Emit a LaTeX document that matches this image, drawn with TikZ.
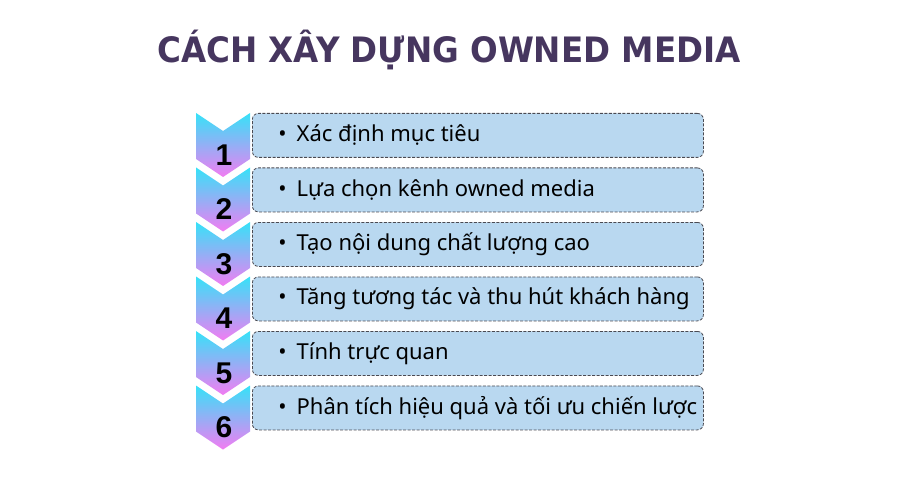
\documentclass[tikz,border=0pt]{standalone}
\usepackage{fontspec}
\setmainfont{Noto Sans}
\newfontfamily\titlefont{DejaVu Sans}
\newfontfamily\numfont{Liberation Sans}
\definecolor{titleink}{HTML}{46365F}
\definecolor{chevtop}{HTML}{36E2F8}
\definecolor{chevbot}{HTML}{F27CF2}
\definecolor{boxfill}{HTML}{B9D8F0}
\definecolor{boxline}{HTML}{4A4A52}
\newcommand{\steptext}[1]{\makebox[427pt][l]{\hspace*{14pt}\textbullet\hspace{10pt}#1}}
\begin{document}
\begin{tikzpicture}[x=1pt,y=-1pt]
        \tikzset{stepbox/.style={draw=boxline, fill=boxfill, dash pattern=on 3pt off 1.5pt, line width=0.8pt, rounded corners=6pt, anchor=north west, minimum width=451pt, minimum height=44pt, inner xsep=12pt, font=\fontsize{22}{24}\selectfont},
                 stepnum/.style={font=\numfont\fontsize{30}{32}\selectfont\bfseries},
                 headline/.style={font=\titlefont\fontsize{35}{40}\selectfont\bfseries, xscale=0.93}}
        \useasboundingbox (0,0) rectangle (900,500);
        % title
        \node[headline, text=titleink] (title) at (449,50) {CÁCH XÂY DỰNG OWNED MEDIA};
        % chevrons
        \shade[top color=chevtop, bottom color=chevbot] (196,113) -- (223,131) -- (250,113) -- (250,159) -- (223,177) -- (196,159) -- cycle;
        \shade[top color=chevtop, bottom color=chevbot] (196,167.5) -- (223,185.5) -- (250,167.5) -- (250,213.5) -- (223,231.5) -- (196,213.5) -- cycle;
        \shade[top color=chevtop, bottom color=chevbot] (196,222) -- (223,240) -- (250,222) -- (250,268) -- (223,286) -- (196,268) -- cycle;
        \shade[top color=chevtop, bottom color=chevbot] (196,276.5) -- (223,294.5) -- (250,276.5) -- (250,322.5) -- (223,340.5) -- (196,322.5) -- cycle;
        \shade[top color=chevtop, bottom color=chevbot] (196,331) -- (223,349) -- (250,331) -- (250,377) -- (223,395) -- (196,377) -- cycle;
        \shade[top color=chevtop, bottom color=chevbot] (196,385.5) -- (223,403.5) -- (250,385.5) -- (250,431.5) -- (223,449.5) -- (196,431.5) -- cycle;
        \node[stepnum] (n1) at (224,155) {1};
        \node[stepnum] (n2) at (224,209.5) {2};
        \node[stepnum] (n3) at (224,264) {3};
        \node[stepnum] (n4) at (224,318.5) {4};
        \node[stepnum] (n5) at (224,373) {5};
        \node[stepnum] (n6) at (224,427.5) {6};
        % steps
        \node[stepbox] (s1) at (252,113) {\steptext{Xác định mục tiêu}};
        \node[stepbox] (s2) at (252,167.5) {\steptext{Lựa chọn kênh owned media}};
        \node[stepbox] (s3) at (252,222) {\steptext{Tạo nội dung chất lượng cao}};
        \node[stepbox] (s4) at (252,276.5) {\steptext{Tăng tương tác và thu hút khách hàng}};
        \node[stepbox] (s5) at (252,331) {\steptext{Tính trực quan}};
        \node[stepbox] (s6) at (252,385.5) {\steptext{Phân tích hiệu quả và tối ưu chiến lược}};
    \end{tikzpicture}
\end{document}
